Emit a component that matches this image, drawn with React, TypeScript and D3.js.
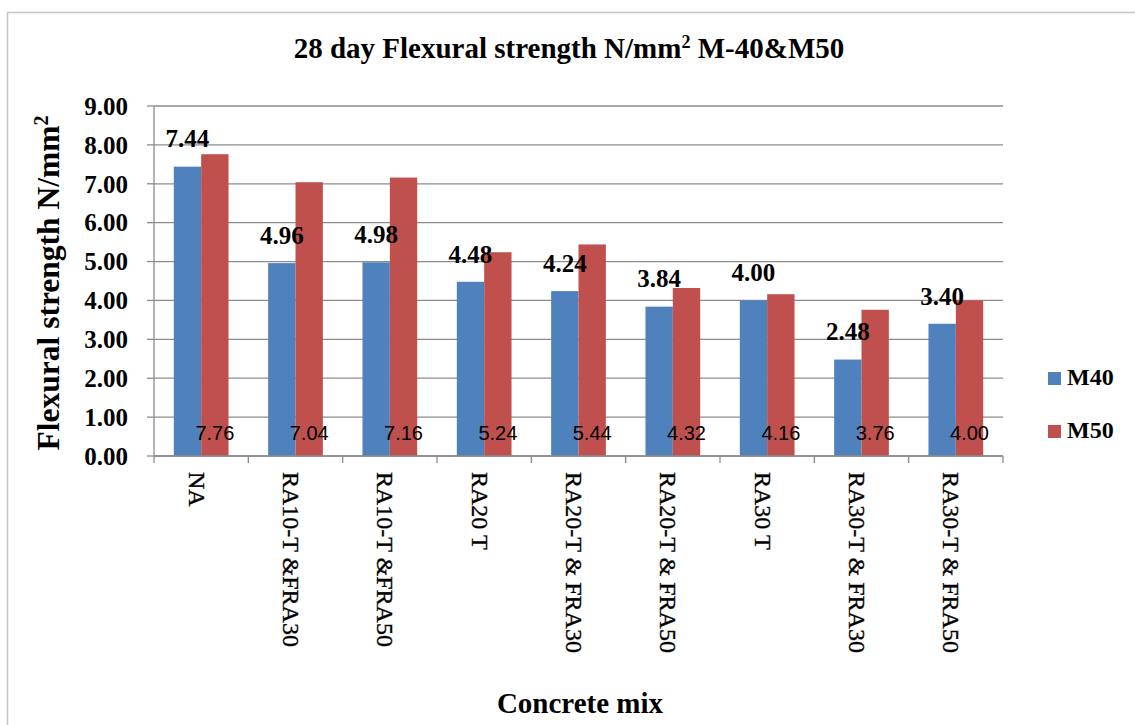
import React from "react";
import * as d3 from "d3";

const categories = [
  "NA",
  "RA10-T &FRA30",
  "RA10-T &FRA50",
  "RA20 T",
  "RA20-T & FRA30",
  "RA20-T & FRA50",
  "RA30 T",
  "RA30-T & FRA30",
  "RA30-T & FRA50",
];
const m40 = [7.44, 4.96, 4.98, 4.48, 4.24, 3.84, 4.0, 2.48, 3.4];
const m50 = [7.76, 7.04, 7.16, 5.24, 5.44, 4.32, 4.16, 3.76, 4.0];
const yTicks = [0, 1, 2, 3, 4, 5, 6, 7, 8, 9];
const seriesNames = ["M40", "M50"];
const colors = ["#4F81BD", "#C0504D"];

const W = 1135;
const H = 725;
const plot = { left: 154, right: 1003, top: 106, bottom: 456 };
const serif = "'Liberation Serif', 'Times New Roman', serif";
const sans = "'Liberation Sans', Arial, sans-serif";

export default function App() {
  const x = d3
    .scaleBand<string>()
    .domain(categories)
    .range([plot.left, plot.right])
    .paddingInner(0)
    .paddingOuter(0);
  const y = d3.scaleLinear().domain([0, 9]).range([plot.bottom, plot.top]);
  const bw = x.bandwidth() * 0.29;
  const center = (c: string) => (x(c) as number) + x.bandwidth() / 2;
  const fmt = d3.format(".2f");

  return (
    <svg
      width={W}
      height={H}
      style={{ position: "absolute", left: 0, top: 0, background: "#fff" }}
    >
      <rect x={7.5} y={12.5} width={1140} height={730} fill="#fff" stroke="#c4c4c4" strokeWidth={1.5} />
      {/* title */}
      <text
        x={569}
        y={58}
        textAnchor="middle"
        fontFamily={serif}
        fontWeight="bold"
        fontSize={29}
        fill="#000"
      >
        28 day Flexural strength N/mm
        <tspan dy={-10} fontSize={18}>2</tspan>
        <tspan dy={10}> M-40&amp;M50</tspan>
      </text>

      {/* gridlines */}
      {yTicks.map((t) => (
        <g key={t}>
          <line x1={plot.left} x2={plot.right} y1={y(t)} y2={y(t)} stroke="#8c8c8c" strokeWidth={1.3} />
          <line x1={plot.left - 7} x2={plot.left} y1={y(t)} y2={y(t)} stroke="#8c8c8c" strokeWidth={1.3} />
          <text
            x={128}
            y={y(t)}
            dy="0.35em"
            textAnchor="end"
            fontFamily={serif}
            fontWeight="bold"
            fontSize={25}
          >
            {fmt(t)}
          </text>
        </g>
      ))}
      {/* y axis */}
      <line x1={plot.left} x2={plot.left} y1={plot.top} y2={plot.bottom} stroke="#8c8c8c" strokeWidth={1.3} />

      {/* bars */}
      {categories.map((c, i) => {
        const cx = center(c);
        return (
          <g key={c}>
            <rect x={cx - bw} y={y(m40[i])} width={bw} height={y(0) - y(m40[i])} fill={colors[0]} />
            <rect x={cx} y={y(m50[i])} width={bw} height={y(0) - y(m50[i])} fill={colors[1]} />
          </g>
        );
      })}

      {/* x axis */}
      <line x1={plot.left} x2={plot.right} y1={plot.bottom} y2={plot.bottom} stroke="#8c8c8c" strokeWidth={1.3} />
      {d3.range(categories.length + 1).map((k) => {
        const tx = plot.left + k * x.bandwidth();
        return <line key={k} x1={tx} x2={tx} y1={plot.bottom} y2={plot.bottom + 7} stroke="#8c8c8c" strokeWidth={1.3} />;
      })}

      {/* data labels */}
      {categories.map((c, i) => {
        const cx = center(c);
        return (
          <g key={"l" + c}>
            <text
              x={cx - bw / 2}
              y={y(m40[i]) - 28}
              dy="0.35em"
              textAnchor="middle"
              fontFamily={serif}
              fontWeight="bold"
              fontSize={25}
            >
              {fmt(m40[i])}
            </text>
            <text
              x={cx + bw / 2}
              y={y(0) - 23}
              dy="0.35em"
              textAnchor="middle"
              fontFamily={sans}
              fontSize={20}
            >
              {fmt(m50[i])}
            </text>
          </g>
        );
      })}

      {/* x labels */}
      {categories.map((c) => (
        <text
          key={"x" + c}
          transform={`translate(${center(c) - 4},472) rotate(90)`}
          dy="0.35em"
          textAnchor="start"
          fontFamily={serif}
          fontSize={24}
          stroke="#000"
          strokeWidth={0.35}
        >
          {c}
        </text>
      ))}

      {/* axis titles */}
      <text
        transform={`translate(48,283) rotate(-90)`}
        textAnchor="middle"
        dy="0.35em"
        fontFamily={serif}
        fontWeight="bold"
        fontSize={31.5}
      >
        Flexural strength N/mm
        <tspan dy={-11} fontSize={20}>2</tspan>
      </text>
      <text x={580} y={713} textAnchor="middle" fontFamily={serif} fontWeight="bold" fontSize={29}>
        Concrete mix
      </text>

      {/* legend */}
      {seriesNames.map((s, i) => (
        <g key={s} transform={`translate(1048,${372 + i * 53})`}>
          <rect x={0} y={0} width={13} height={13} fill={colors[i]} />
          <text x={19} y={13} fontFamily={serif} fontWeight="bold" fontSize={24}>
            {s}
          </text>
        </g>
      ))}
    </svg>
  );
}
